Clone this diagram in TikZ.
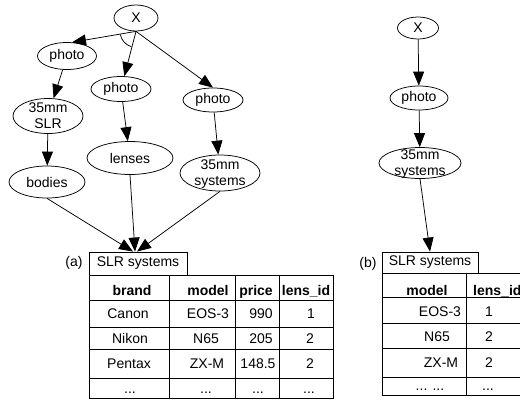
\documentclass[tikz,border=0pt]{standalone}
\usepackage{fontspec}
\setmainfont{Liberation Sans}
\usetikzlibrary{shapes.geometric,arrows.meta}
\newcommand{\twoline}[2]{\raisebox{-5pt}[0pt][0pt]{\begin{tabular}{@{}c@{}}#1\\#2\end{tabular}}}
\begin{document}
\begin{tikzpicture}[x=1pt,y=-1pt,
  font=\fontsize{14}{16}\selectfont,
  ell/.style={draw, ellipse, inner sep=0pt, line width=0.75pt},
  arr/.style={-{Triangle[length=14pt,width=11pt]}, line width=0.75pt},
  cell/.style={anchor=base, inner sep=0pt},
  hcell/.style={cell, font=\fontsize{14}{16}\selectfont\bfseries},
  tab/.style={line width=0.9pt},
  boxnode/.style={draw, tab, inner sep=0pt},
  lbl/.style={inner sep=0pt}]
\useasboundingbox (0,0) rectangle (520,400);
\clip (0,0) rectangle (520,400);

% ---------- (a) ----------
\node[ell, minimum width=44pt, minimum height=26pt] (xa) at (136,18) {X};
\node[ell, minimum width=59pt, minimum height=27pt] (pl) at (67,56) {photo};
\node[ell, minimum width=60pt, minimum height=25pt] (pm) at (121,89) {photo};
\node[ell, minimum width=60pt, minimum height=24pt] (pr) at (213,100) {photo};
\node[ell, minimum width=70pt, minimum height=35pt] (slr) at (48,116) {\twoline{35mm}{SLR}};
\node[ell, minimum width=76pt, minimum height=32pt] (bod) at (47,182) {bodies};
\node[ell, minimum width=86pt, minimum height=33pt] (len) at (130,158) {lenses};
\node[ell, minimum width=80pt, minimum height=36pt] (sys) at (220,173) {\twoline{35mm}{systems}};

\draw[arr] (xa.south) -- (pl.70);
\draw[arr] (xa.south) -- (pm);
\draw[arr] (xa.south) -- (pr.north);
\draw[line width=0.75pt] ([shift={(169:16)}]xa.south) arc[start angle=169, end angle=107, radius=16];
\draw[arr] (pl) -- (slr);
\draw[arr] (slr) -- (bod);
\draw[arr] (pm) -- (len);
\draw[arr] (pr) -- (sys);

\node[boxnode, minimum width=98pt, minimum height=23pt] (slra) at (138,263.5) {SLR systems};
\node[lbl] (la) at (74,263) {(a)};
\draw[arr] (bod.south) -- ([xshift=-5pt]slra.north);
\draw[arr] (len.south) -- ([xshift=-3pt]slra.north);
\draw[arr] (sys.south) -- ([xshift=-1pt]slra.north);

\draw[tab] (89,275) rectangle (333,398);
\foreach \x in {169,235,279} \draw[tab] (\x,275) -- (\x,398);
\foreach \y in {300,327,349,378} \draw[tab] (89,\y) -- (333,\y);

\node[hcell] (ha1) at (132,295) {brand};
\node[hcell] (ha2) at (208,295) {model};
\node[hcell] (ha3) at (256,295) {price};
\node[hcell] (ha4) at (306,295) {lens\_id};
\node[cell] (a11) at (128,318) {Canon};
\node[cell] (a12) at (208,318) {EOS-3};
\node[cell] (a13) at (261,318) {990};
\node[cell] (a14) at (311,318) {1};
\node[cell] (a21) at (130,343) {Nikon};
\node[cell] (a22) at (206,343) {N65};
\node[cell] (a23) at (261,343) {205};
\node[cell] (a24) at (310,343) {2};
\node[cell] (a31) at (129,368) {Pentax};
\node[cell] (a32) at (207,368) {ZX-M};
\node[cell] (a33) at (258,368) {148.5};
\node[cell] (a34) at (310,368) {2};
\node[cell] (a41) at (130,393) {...};
\node[cell] (a42) at (206,393) {...};
\node[cell] (a43) at (258,393) {...};
\node[cell] (a44) at (309,393) {...};

% ---------- (b) ----------
\node[ell, minimum width=41pt, minimum height=22pt] (xb) at (418,28) {X};
\node[ell, minimum width=58pt, minimum height=24pt] (pb) at (419,98) {photo};
\node[ell, minimum width=82pt, minimum height=31pt] (sb) at (420,163) {\twoline{35mm}{systems}};
\draw[arr] (xb) -- (pb);
\draw[arr] (pb) -- (sb);
\node[boxnode, minimum width=96pt, minimum height=21pt] (slrb) at (430,262.5) {SLR systems};
\node[lbl] (lb) at (368,264) {(b)};
\draw[arr] (sb.south) -- (slrb.north);

\draw[tab] (530,273) -- (382,273) -- (382,395) -- (530,395);
\draw[tab] (466,273) -- (466,395);
\foreach \y in {297,323,348,377} \draw[tab] (382,\y) -- (530,\y);

\node[hcell] (hb1) at (427,295) {model};
\node[hcell, anchor=base west] (hb2) at (473,295) {lens\_id};
\node[cell] (b11) at (440,316) {EOS-3};
\node[cell] (b12) at (489,316) {1};
\node[cell] (b21) at (437,341) {N65};
\node[cell] (b22) at (489,341) {2};
\node[cell] (b31) at (441,367) {ZX-M};
\node[cell] (b32) at (489,367) {2};
\node[cell] (b41) at (430,390) {... ...};
\node[cell] (b42) at (488,390) {...};
\end{tikzpicture}
\end{document}
